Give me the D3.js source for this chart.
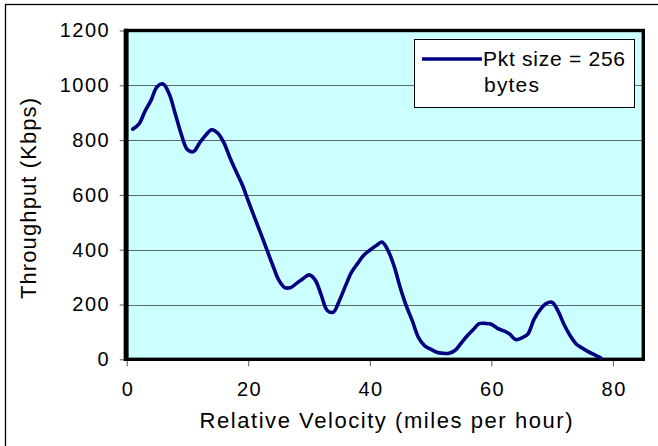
<!DOCTYPE html>
<html><head><meta charset="utf-8">
<script src="https://cdn.jsdelivr.net/npm/d3@7"></script>
<style>body{margin:0;background:#fff;} svg{display:block;}</style>
</head><body>
<svg id="c" width="658" height="446"></svg>
<script>
const velocity = [1,2,3,4,5,6,7,8,9,10,11,12,13,14,15,16,17,18,19,20,21,22,23,24,25,26,27,28,29,30,31,32,33,34,35,36,37,38,39,40,41,42,43,44,45,46,47,48,49,50,51,52,53,54,55,56,57,58,59,60,61,62,63,64,65,66,67,68,69,70,71,72,73,74,75,76,77,78];
const throughput = [840,858,905,945,995,1005,968,895,820,765,758,790,818,838,825,790,735,685,638,578,520,462,404,345,290,262,262,278,294,308,290,235,178,172,215,268,318,350,380,398,414,428,397,340,262,195,140,80,50,37,26,22,22,32,58,85,108,130,131,128,113,104,92,72,78,92,145,180,203,208,175,125,85,55,40,27,16,5];
const xTicks = [0,20,40,60,80];
const yTicks = [0,200,400,600,800,1000,1200];
const seriesName = ["Pkt size = 256", "bytes"];
const xTitle = "Relative Velocity (miles per hour)";
const yTitle = "Throughput (Kbps)";

const svg = d3.select("#c");
const L = 126.7, R = 643.3, T = 30.5, B = 359.3;
const x = d3.scaleLinear().domain([0,85]).range([L, R]);
const y = d3.scaleLinear().domain([0,1200]).range([B, T]);
const font = "Arial, 'Liberation Sans', sans-serif";
const fmt = d3.format("d");

// outer border
svg.append("rect").attr("x",5.5).attr("y",4.5).attr("width",660).attr("height",450)
  .attr("fill","#fff").attr("stroke","#000").attr("stroke-width",1.3);

// plot area
svg.append("rect").attr("x",L).attr("y",T).attr("width",R-L).attr("height",B-T)
  .attr("fill","#CCFFFF");

// gridlines
svg.append("g").selectAll("line").data(yTicks.filter(d=>d>0 && d<1200)).join("line")
  .attr("x1",L).attr("x2",R).attr("y1",d=>Math.round(y(d))+0.5).attr("y2",d=>Math.round(y(d))+0.5)
  .attr("stroke","#5a6a6a").attr("stroke-width",1);

// axes
const yAxis = svg.append("g").attr("transform",`translate(${L},0)`)
  .call(d3.axisLeft(y).tickValues(yTicks).tickFormat(fmt).tickSize(7).tickPadding(11));
yAxis.select(".domain").remove();
yAxis.selectAll("line").attr("stroke","#555");
yAxis.selectAll("text").attr("font-family",font).attr("font-size","20px")
  .attr("fill","#000").style("letter-spacing","1.5px").attr("dx","1.5");

const xAxis = svg.append("g").attr("transform",`translate(0,${B})`)
  .call(d3.axisBottom(x).tickValues(xTicks).tickFormat(fmt).tickSize(7).tickPadding(16));
xAxis.select(".domain").remove();
xAxis.selectAll("line").attr("stroke","#555");
xAxis.selectAll("text").attr("font-family",font).attr("font-size","20px")
  .attr("fill","#000").style("letter-spacing","1.5px").attr("dx","0.75");

// plot border
svg.append("rect").attr("x",L).attr("y",T).attr("width",R-L).attr("height",B-T)
  .attr("fill","none").attr("stroke","#000").attr("stroke-width",3.4);
svg.append("line").attr("x1",L-0.7).attr("x2",L-0.7).attr("y1",T-1.7).attr("y2",B+1.7)
  .attr("stroke","#000").attr("stroke-width",4.7);

// data line
const line = d3.line().x((d,i)=>x(velocity[i])).y(d=>y(d)).curve(d3.curveCatmullRom.alpha(0.5));
svg.append("path").datum(throughput).attr("d",line).attr("fill","none")
  .attr("stroke","#000080").attr("stroke-width",3.6).attr("stroke-linejoin","round").attr("stroke-linecap","round");

// legend
const lg = svg.append("g");
lg.append("rect").attr("x",414.5).attr("y",39.5).attr("width",220).attr("height",68)
  .attr("fill","#fff").attr("stroke","#000").attr("stroke-width",1);
lg.append("line").attr("x1",422).attr("x2",482).attr("y1",59).attr("y2",59)
  .attr("stroke","#000080").attr("stroke-width",3.6);
lg.append("text").attr("x",483).attr("y",65.5).text(seriesName[0])
  .attr("font-family",font).attr("font-size","21px").attr("textLength",142).attr("lengthAdjust","spacing");
lg.append("text").attr("x",484).attr("y",92).text(seriesName[1])
  .attr("font-family",font).attr("font-size","21px").attr("textLength",55).attr("lengthAdjust","spacing");

// titles
svg.append("text").attr("x",(199+573)/2).attr("y",428.3).attr("text-anchor","middle")
  .attr("font-family",font).attr("font-size","22px").attr("textLength",373).attr("lengthAdjust","spacing")
  .text(xTitle);
svg.append("text").attr("transform","translate(36,198.5) rotate(-90)").attr("text-anchor","middle")
  .attr("font-family",font).attr("font-size","22px").attr("textLength",201).attr("lengthAdjust","spacing")
  .text(yTitle);
</script>
</body></html>
